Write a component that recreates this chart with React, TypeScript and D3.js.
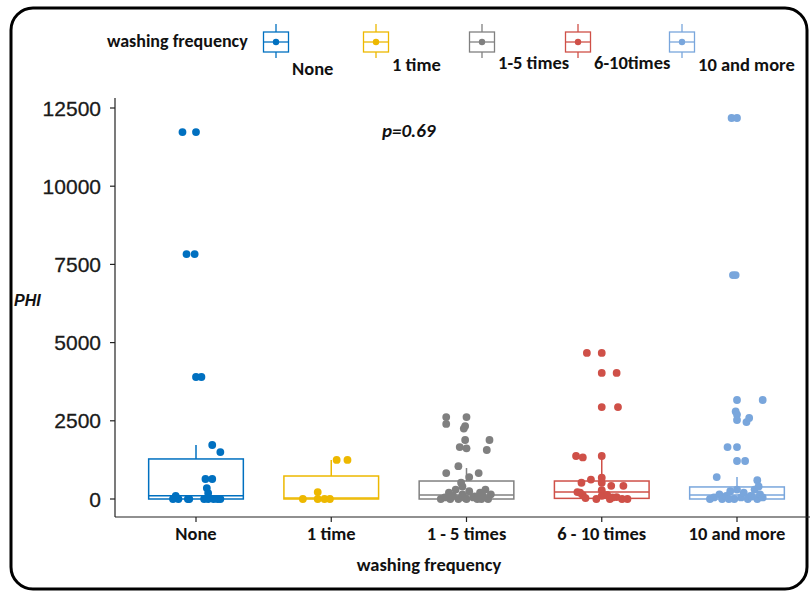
import React from "react";
import * as d3 from "d3";

const categories = ["None", "1 time", "1 - 5 times", "6 - 10 times", "10 and more"];
const legendLabels = ["None", "1 time", "1-5 times", "6-10times", "10 and more"];
const colors = ["#0070C0", "#EDB800", "#808080", "#CF5048", "#79A6DC"];
const yTicks = [0, 2500, 5000, 7500, 10000, 12500];

// box stats: [lowerWhisker, q1, median, q3, upperWhisker]
const boxStats: number[][] = [
  [0, 0, 100, 1280, 1726],
  [0, 0, 30, 735, 1250],
  [0, 0, 130, 575, 990],
  [20, 20, 220, 575, 1375],
  [0, 0, 130, 385, 700],
];

// points: [value, horizontal jitter in category units]
const ptsNone: number[][] = [
  [11730, -0.1], [11730, 0.0], [7830, -0.07], [7830, -0.01], [3900, 0.0], [3900, 0.04],
  [1726, 0.12], [1500, 0.18], [640, 0.07], [640, 0.12], [350, 0.08], [190, 0.09],
  [100, -0.15], [0, -0.17], [0, -0.06], [0, -0.05], [0, 0.06], [0, 0.09], [0, 0.16],
  [0, 0.18], [0, 0.13], [0, -0.13],
];
const ptsOne: number[][] = [
  [1250, 0.04], [1250, 0.12], [220, -0.1], [0, -0.21], [0, -0.1], [0, -0.05], [0, -0.01],
];
const ptsOneFive: number[][] = [
  [2620, -0.15], [2620, 0.0], [2400, -0.15], [2330, -0.01], [2250, -0.02],
  [1886, -0.01], [1886, 0.17], [1660, -0.05], [1620, 0.0], [1566, 0.15],
  [1050, -0.06], [830, -0.15], [830, 0.09], [700, 0.02], [520, -0.04], [400, -0.03],
  [0, -0.19], [50, -0.16], [200, -0.13], [100, -0.1], [300, -0.08], [0, -0.06],
  [150, -0.03], [0, 0.0], [250, 0.02], [50, 0.05], [0, 0.08], [200, 0.1], [100, 0.12],
  [300, 0.14], [0, 0.16], [150, 0.18], [0, -0.12], [0, 0.11], [80, 0.06], [30, -0.01],
];
const ptsSixTen: number[][] = [
  [4670, -0.11], [4670, 0.0], [4030, 0.0], [4030, 0.11], [2940, 0.0], [2940, 0.12],
  [1375, -0.19], [1330, -0.14], [1375, 0.0], [620, -0.08], [520, -0.15], [680, 0.0],
  [420, 0.07], [420, 0.16], [520, 0.0], [220, -0.18], [120, -0.14], [30, -0.12],
  [0, -0.04], [280, 0.0], [100, 0.0], [130, 0.04], [0, 0.06], [60, 0.11], [0, 0.15],
  [0, 0.19], [200, -0.16], [50, 0.08],
];
const ptsTenMore: number[][] = [
  [12180, -0.04], [12180, 0.0], [7160, -0.03], [7160, -0.01], [3165, 0.0], [3165, 0.19],
  [2800, -0.01], [2700, 0.0], [2525, 0.0], [2460, 0.07], [2590, 0.09], [1660, -0.07],
  [1660, 0.0], [1215, 0.0], [1215, 0.06], [700, -0.15], [600, 0.15],
  [0, -0.2], [50, -0.17], [150, -0.13], [0, -0.11], [100, -0.08], [250, -0.05], [0, -0.02],
  [300, 0.0], [50, 0.03], [200, 0.05], [0, 0.08], [100, 0.1], [300, 0.13], [0, 0.15],
  [150, 0.17], [50, 0.19], [400, 0.16], [0, -0.06], [80, 0.11],
];
const points = [ptsNone, ptsOne, ptsOneFive, ptsSixTen, ptsTenMore];

const W = 810;
const H = 592;
const narrow = "Carlito, 'Liberation Sans Narrow', 'DejaVu Sans Condensed', sans-serif";

export default function App() {
  const x = d3.scalePoint<string>().domain(categories).range([196, 737]);
  const step = x.step();
  const y = d3.scaleLinear().domain([0, 12500]).range([499, 108]);
  const boxW = step * 0.7;
  const axisX = 115;
  const axisY = 517;

  const legendKeyX = [276, 376, 482, 578, 682];
  const legendLabelDy = [33, 29, 27, 27, 29];

  return (
    <svg width={W} height={H} style={{ position: "absolute", left: 0, top: 0, background: "#fff" }}>
      <rect x={0} y={0} width={W} height={H} fill="#fff" />
      {/* outer frame */}
      <rect x={11} y={8} width={796} height={581} rx={22} ry={22} fill="none" stroke="#000" strokeWidth={3} />

      {/* legend */}
      <text x={107} y={47} fontFamily={narrow} fontSize={18} fontWeight={600} fill="#111">
        washing frequency
      </text>
      {legendLabels.map((lab, i) => {
        const cx = legendKeyX[i];
        const c = colors[i];
        return (
          <g key={lab}>
            <line x1={cx} x2={cx} y1={24} y2={32} stroke={c} strokeWidth={1.3} />
            <line x1={cx} x2={cx} y1={52} y2={58} stroke={c} strokeWidth={1.3} />
            <rect x={cx - 12.5} y={32} width={25} height={20} fill="#fff" stroke={c} strokeWidth={1.3} />
            <line x1={cx - 12.5} x2={cx + 12.5} y1={42} y2={42} stroke={c} strokeWidth={1.3} />
            <circle cx={cx} cy={42} r={3.2} fill={c} />
            <text x={cx + 16} y={42 + legendLabelDy[i]} fontFamily={narrow} fontSize={18.5} fontWeight={600} fill="#111">
              {lab}
            </text>
          </g>
        );
      })}

      {/* y axis */}
      <line x1={axisX} x2={axisX} y1={98} y2={axisY} stroke="#222" strokeWidth={1.2} />
      {yTicks.map((t) => (
        <g key={t}>
          <line x1={axisX - 5} x2={axisX} y1={y(t)} y2={y(t)} stroke="#222" strokeWidth={1.2} />
          <text x={axisX - 14} y={y(t)} dy="0.36em" textAnchor="end" fontFamily="'Liberation Sans', Arial, sans-serif" fontSize={21} fill="#1a1a1a" stroke="#1a1a1a" strokeWidth={0.3}>
            {t}
          </text>
        </g>
      ))}
      <text x={14} y={306} fontFamily="'Liberation Sans', Arial, sans-serif" fontSize={16} fontWeight="bold" fontStyle="italic" fill="#111">
        PHI
      </text>

      {/* x axis */}
      <line x1={axisX} x2={W} y1={axisY} y2={axisY} stroke="#222" strokeWidth={1.2} />
      {categories.map((c) => (
        <g key={c}>
          <line x1={x(c)} x2={x(c)} y1={axisY} y2={axisY + 5} stroke="#222" strokeWidth={1.2} />
          <text x={x(c)} y={540} textAnchor="middle" fontFamily={narrow} fontSize={18.5} fontWeight={600} fill="#111">
            {c}
          </text>
        </g>
      ))}
      <text x={429} y={571} textAnchor="middle" fontFamily={narrow} fontSize={18.5} fontWeight={600} fill="#111">
        washing frequency
      </text>

      {/* p value */}
      <text x={382} y={137} fontFamily={narrow} fontSize={19} fontWeight="bold" fontStyle="italic" fill="#111">
        p=0.69
      </text>

      {/* boxes */}
      {categories.map((c, i) => {
        const [lo, q1, med, q3, hi] = boxStats[i];
        const cx = x(c) as number;
        const col = colors[i];
        return (
          <g key={c}>
            <line x1={cx} x2={cx} y1={y(q3)} y2={y(hi)} stroke={col} strokeWidth={1.5} />
            <line x1={cx} x2={cx} y1={y(q1)} y2={y(lo)} stroke={col} strokeWidth={1.5} />
            <rect x={cx - boxW / 2} y={y(q3)} width={boxW} height={y(q1) - y(q3)} fill="#fff" stroke={col} strokeWidth={1.5} />
            <line x1={cx - boxW / 2} x2={cx + boxW / 2} y1={y(med)} y2={y(med)} stroke={col} strokeWidth={1.5} />
          </g>
        );
      })}

      {/* jittered points */}
      {categories.map((c, i) => {
        const cx = x(c) as number;
        return (
          <g key={c} fill={colors[i]}>
            {points[i].map(([v, j], k) => (
              <circle key={k} cx={cx + j * step} cy={y(v)} r={3.9} />
            ))}
          </g>
        );
      })}
    </svg>
  );
}
